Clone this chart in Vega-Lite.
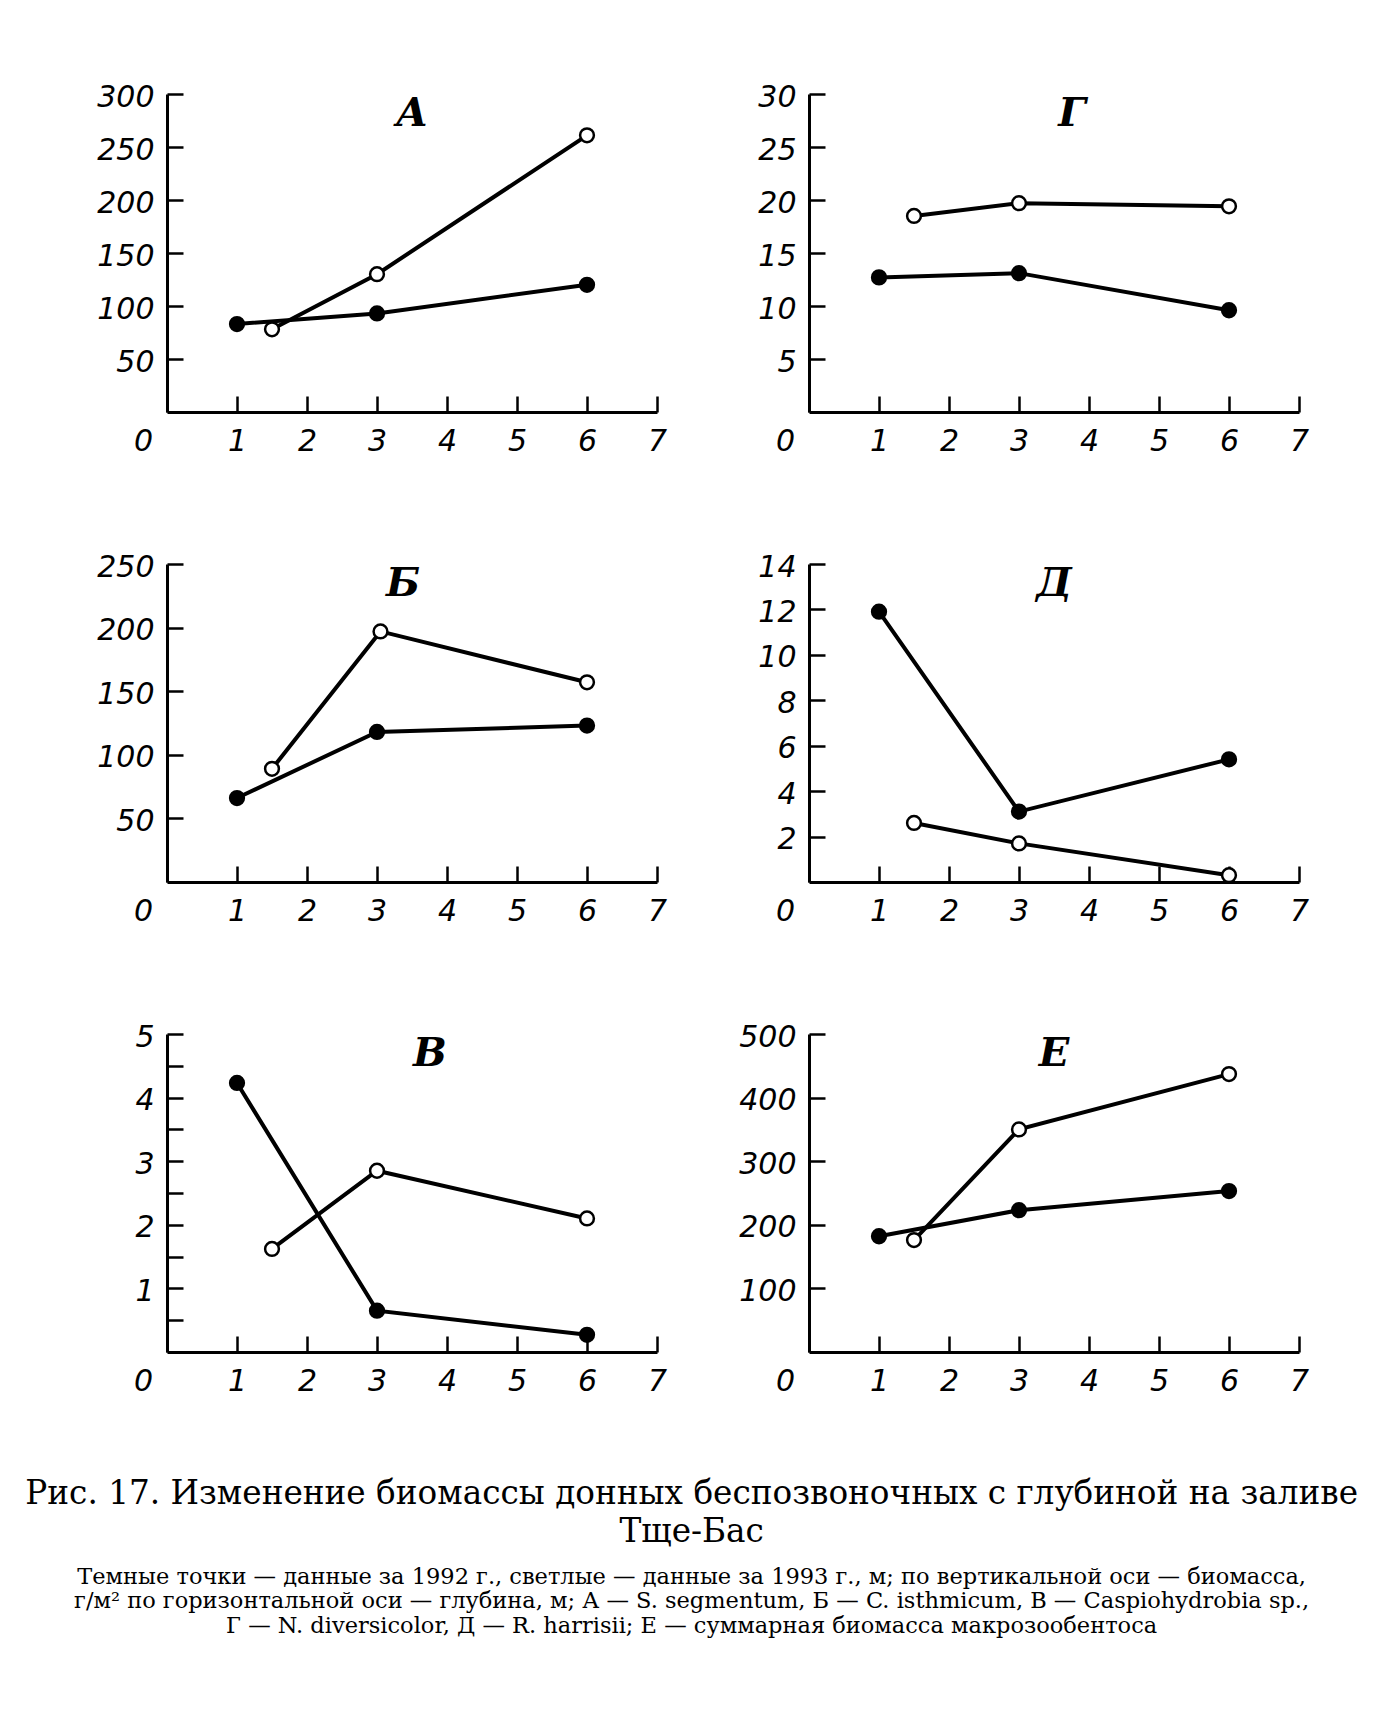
{
  "$schema": "https://vega.github.io/schema/vega-lite/v6.json",
  "autosize": {"type": "pad"},
  "padding": {"left": 25, "top": 82, "right": 10, "bottom": 10},
  "background": "white",
  "bounds": "flush",
  "columns": 2,
  "spacing": {"row": 152, "column": 152},
  "datasets": {
    "d": [
      {"panel": "А", "year": "1992", "depth": 1, "biomass": 83},
      {"panel": "А", "year": "1992", "depth": 3, "biomass": 93},
      {"panel": "А", "year": "1992", "depth": 6, "biomass": 120},
      {"panel": "А", "year": "1993", "depth": 1.5, "biomass": 78},
      {"panel": "А", "year": "1993", "depth": 3, "biomass": 130},
      {"panel": "А", "year": "1993", "depth": 6, "biomass": 261},
      {"panel": "Г", "year": "1992", "depth": 1, "biomass": 12.7},
      {"panel": "Г", "year": "1992", "depth": 3, "biomass": 13.1},
      {"panel": "Г", "year": "1992", "depth": 6, "biomass": 9.6},
      {"panel": "Г", "year": "1993", "depth": 1.5, "biomass": 18.5},
      {"panel": "Г", "year": "1993", "depth": 3, "biomass": 19.7},
      {"panel": "Г", "year": "1993", "depth": 6, "biomass": 19.4},
      {"panel": "Б", "year": "1992", "depth": 1, "biomass": 66},
      {"panel": "Б", "year": "1992", "depth": 3, "biomass": 118},
      {"panel": "Б", "year": "1992", "depth": 6, "biomass": 123},
      {"panel": "Б", "year": "1993", "depth": 1.5, "biomass": 89},
      {"panel": "Б", "year": "1993", "depth": 3.05, "biomass": 197},
      {"panel": "Б", "year": "1993", "depth": 6, "biomass": 157},
      {"panel": "Д", "year": "1992", "depth": 1, "biomass": 11.9},
      {"panel": "Д", "year": "1992", "depth": 3, "biomass": 3.1},
      {"panel": "Д", "year": "1992", "depth": 6, "biomass": 5.4},
      {"panel": "Д", "year": "1993", "depth": 1.5, "biomass": 2.6},
      {"panel": "Д", "year": "1993", "depth": 3, "biomass": 1.7},
      {"panel": "Д", "year": "1993", "depth": 6, "biomass": 0.3},
      {"panel": "В", "year": "1992", "depth": 1, "biomass": 4.23},
      {"panel": "В", "year": "1992", "depth": 3, "biomass": 0.65},
      {"panel": "В", "year": "1992", "depth": 6, "biomass": 0.27},
      {"panel": "В", "year": "1993", "depth": 1.5, "biomass": 1.62},
      {"panel": "В", "year": "1993", "depth": 3, "biomass": 2.85},
      {"panel": "В", "year": "1993", "depth": 6, "biomass": 2.1},
      {"panel": "Е", "year": "1992", "depth": 1, "biomass": 182},
      {"panel": "Е", "year": "1992", "depth": 3, "biomass": 223},
      {"panel": "Е", "year": "1992", "depth": 6, "biomass": 253},
      {"panel": "Е", "year": "1993", "depth": 1.5, "biomass": 176},
      {"panel": "Е", "year": "1993", "depth": 3, "biomass": 350},
      {"panel": "Е", "year": "1993", "depth": 6, "biomass": 437}
    ]
  },
  "data": {"name": "d"},
  "title": {
    "text": ["Рис. 17. Изменение биомассы донных беспозвоночных с глубиной на заливе", "Тще-Бас"],
    "subtitle": ["Темные точки — данные за 1992 г., светлые — данные за 1993 г., м; по вертикальной оси — биомасса,", "г/м² по горизонтальной оси — глубина, м; А — S. segmentum, Б — C. isthmicum, В — Caspiohydrobia sp.,", "Г — N. diversicolor, Д — R. harrisii; Е — суммарная биомасса макрозообентоса"],
    "orient": "bottom",
    "anchor": "middle",
    "frame": "bounds",
    "dx": -11,
    "font": "DejaVu Serif",
    "fontSize": 32.7,
    "fontStyle": "normal",
    "fontWeight": "normal",
    "lineHeight": 38,
    "color": "black",
    "subtitleFont": "DejaVu Serif",
    "subtitleFontSize": 22.5,
    "subtitleFontStyle": "normal",
    "subtitleLineHeight": 24.5,
    "subtitleColor": "black",
    "subtitlePadding": 17,
    "offset": 82
  },
  "concat": [
    {
      "width": 490, "height": 318,
      "title": {"text": "А"},
      "transform": [{"filter": "datum.panel == 'А'"}],
      "encoding": {
        "x": {"field": "depth", "type": "quantitative", "scale": {"domain": [0, 7], "nice": false, "zero": false}, "axis": {"values": [0, 1, 2, 3, 4, 5, 6, 7]}},
        "y": {"field": "biomass", "type": "quantitative", "scale": {"domain": [0, 300], "nice": false}, "axis": {"values": [50, 100, 150, 200, 250, 300]}}
      },
      "layer": [
        {"mark": {"type": "line", "color": "black", "strokeWidth": 4}, "encoding": {"detail": {"field": "year", "type": "nominal"}}},
        {"mark": {"type": "point", "filled": true, "size": 190, "stroke": "black", "strokeWidth": 2.5, "opacity": 1}, "encoding": {"fill": {"field": "year", "type": "nominal", "scale": {"domain": ["1992", "1993"], "range": ["black", "white"]}, "legend": null}}}
      ]
    },
    {
      "width": 490, "height": 318,
      "title": {"text": "Г", "dx": 18},
      "transform": [{"filter": "datum.panel == 'Г'"}],
      "encoding": {
        "x": {"field": "depth", "type": "quantitative", "scale": {"domain": [0, 7], "nice": false, "zero": false}, "axis": {"values": [0, 1, 2, 3, 4, 5, 6, 7]}},
        "y": {"field": "biomass", "type": "quantitative", "scale": {"domain": [0, 30], "nice": false}, "axis": {"values": [5, 10, 15, 20, 25, 30]}}
      },
      "layer": [
        {"mark": {"type": "line", "color": "black", "strokeWidth": 4}, "encoding": {"detail": {"field": "year", "type": "nominal"}}},
        {"mark": {"type": "point", "filled": true, "size": 190, "stroke": "black", "strokeWidth": 2.5, "opacity": 1}, "encoding": {"fill": {"field": "year", "type": "nominal", "scale": {"domain": ["1992", "1993"], "range": ["black", "white"]}, "legend": null}}}
      ]
    },
    {
      "width": 490, "height": 318,
      "title": {"text": "Б", "dx": -9},
      "transform": [{"filter": "datum.panel == 'Б'"}],
      "encoding": {
        "x": {"field": "depth", "type": "quantitative", "scale": {"domain": [0, 7], "nice": false, "zero": false}, "axis": {"values": [0, 1, 2, 3, 4, 5, 6, 7]}},
        "y": {"field": "biomass", "type": "quantitative", "scale": {"domain": [0, 250], "nice": false}, "axis": {"values": [50, 100, 150, 200, 250]}}
      },
      "layer": [
        {"mark": {"type": "line", "color": "black", "strokeWidth": 4}, "encoding": {"detail": {"field": "year", "type": "nominal"}}},
        {"mark": {"type": "point", "filled": true, "size": 190, "stroke": "black", "strokeWidth": 2.5, "opacity": 1}, "encoding": {"fill": {"field": "year", "type": "nominal", "scale": {"domain": ["1992", "1993"], "range": ["black", "white"]}, "legend": null}}}
      ]
    },
    {
      "width": 490, "height": 318,
      "title": {"text": "Д"},
      "transform": [{"filter": "datum.panel == 'Д'"}],
      "encoding": {
        "x": {"field": "depth", "type": "quantitative", "scale": {"domain": [0, 7], "nice": false, "zero": false}, "axis": {"values": [0, 1, 2, 3, 4, 5, 6, 7]}},
        "y": {"field": "biomass", "type": "quantitative", "scale": {"domain": [0, 14], "nice": false}, "axis": {"values": [2, 4, 6, 8, 10, 12, 14]}}
      },
      "layer": [
        {"mark": {"type": "line", "color": "black", "strokeWidth": 4}, "encoding": {"detail": {"field": "year", "type": "nominal"}}},
        {"mark": {"type": "point", "filled": true, "size": 190, "stroke": "black", "strokeWidth": 2.5, "opacity": 1}, "encoding": {"fill": {"field": "year", "type": "nominal", "scale": {"domain": ["1992", "1993"], "range": ["black", "white"]}, "legend": null}}}
      ]
    },
    {
      "width": 490, "height": 318,
      "title": {"text": "В", "dx": 18},
      "transform": [{"filter": "datum.panel == 'В'"}],
      "encoding": {
        "x": {"field": "depth", "type": "quantitative", "scale": {"domain": [0, 7], "nice": false, "zero": false}, "axis": {"values": [0, 1, 2, 3, 4, 5, 6, 7]}},
        "y": {"field": "biomass", "type": "quantitative", "scale": {"domain": [0, 5], "nice": false}, "axis": {"values": [0.5, 1, 1.5, 2, 2.5, 3, 3.5, 4, 4.5, 5], "labelExpr": "datum.value % 1 == 0 ? format(datum.value, 'd') : ''"}}
      },
      "layer": [
        {"mark": {"type": "line", "color": "black", "strokeWidth": 4}, "encoding": {"detail": {"field": "year", "type": "nominal"}}},
        {"mark": {"type": "point", "filled": true, "size": 190, "stroke": "black", "strokeWidth": 2.5, "opacity": 1}, "encoding": {"fill": {"field": "year", "type": "nominal", "scale": {"domain": ["1992", "1993"], "range": ["black", "white"]}, "legend": null}}}
      ]
    },
    {
      "width": 490, "height": 318,
      "title": {"text": "Е"},
      "transform": [{"filter": "datum.panel == 'Е'"}],
      "encoding": {
        "x": {"field": "depth", "type": "quantitative", "scale": {"domain": [0, 7], "nice": false, "zero": false}, "axis": {"values": [0, 1, 2, 3, 4, 5, 6, 7]}},
        "y": {"field": "biomass", "type": "quantitative", "scale": {"domain": [0, 500], "nice": false}, "axis": {"values": [100, 200, 300, 400, 500]}}
      },
      "layer": [
        {"mark": {"type": "line", "color": "black", "strokeWidth": 4}, "encoding": {"detail": {"field": "year", "type": "nominal"}}},
        {"mark": {"type": "point", "filled": true, "size": 190, "stroke": "black", "strokeWidth": 2.5, "opacity": 1}, "encoding": {"fill": {"field": "year", "type": "nominal", "scale": {"domain": ["1992", "1993"], "range": ["black", "white"]}, "legend": null}}}
      ]
    }
  ],
  "config": {
    "view": {"stroke": null},
    "title": {"font": "DejaVu Serif", "fontSize": 40, "fontStyle": "italic", "fontWeight": "bold", "color": "black", "frame": "group", "anchor": "middle", "offset": -52},
    "axis": {
      "title": null,
      "grid": false,
      "domainColor": "black",
      "domainWidth": 3,
      "tickColor": "black",
      "tickWidth": 2.5,
      "tickSize": -16,
      "labelFont": "DejaVu Sans",
      "labelFontStyle": "italic",
      "labelFontSize": 30,
      "labelColor": "black",
      "labelFlush": false,
      "labelOverlap": false
    },
    "axisX": {"labelPadding": 30, "labelOffset": {"condition": {"test": "datum.value == 0", "value": -24}, "value": 0}},
    "axisY": {"labelPadding": 29, "labelOffset": 3}
  }
}
